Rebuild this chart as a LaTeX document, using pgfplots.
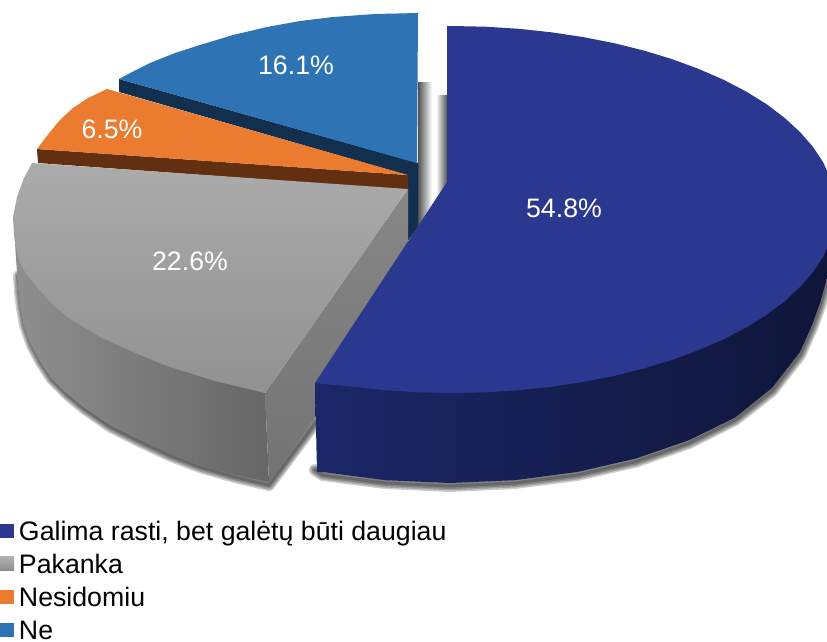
\documentclass[border=0pt]{standalone}
\usepackage{fontspec}
\setmainfont{Liberation Sans}
\usepackage{pgfplots}
\pgfplotsset{compat=1.18}
\definecolor{cmain}{HTML}{2B3890}
\definecolor{cmainL}{HTML}{1C2768}
\definecolor{cmainR}{HTML}{0F1538}
\definecolor{cora}{HTML}{EB7B2F}
\definecolor{coraS}{HTML}{622F11}
\definecolor{cblu}{HTML}{2E74B5}
\definecolor{cbluS}{HTML}{122F4E}
\pgfplotsset{
 sh/.style={draw=black,draw opacity=0.2,line width=#1,line join=round,line cap=round,fill=none,forget plot},
 shape/.style={draw=none,forget plot},
 swatch/.style={legend image code/.code={\path[draw=none,##1] (0pt,-7pt) rectangle (14pt,7pt);}},
}
\begin{document}
\begin{tikzpicture}
\begin{axis}[
 scale only axis,width=827pt,height=641pt,
 xmin=0,xmax=827,ymin=0,ymax=641,y dir=reverse,
 hide axis,clip=true,
 legend cell align=left,
 legend style={at={(axis cs:0,640)},anchor=south west,draw=none,fill=none,inner sep=0pt,outer sep=0pt,
   font=\fontsize{26.7}{30}\selectfont,row sep=12pt,
   nodes={inner sep=0pt,text height=20pt,text depth=1pt},
   /tikz/every odd column/.append style={column sep=5pt}},
]
\addplot[draw=none,forget plot] coordinates {(0,0)(827,641)};
% wall shadows
\addplot[shape,left color=black!68,right color=white] coordinates {(418,82)(432,82)(432,235)(418,235)} -- cycle;
\addplot[shape,left color=white,right color=black!68] coordinates {(436,95)(447,95)(447,200)(436,200)} -- cycle;
% "Ne" slice
\addplot[shape,fill=cbluS] coordinates {(119,79)(119,92)(407,175)(407,242)(418,227)(418,163)} -- cycle;
\addplot[shape,fill=cblu] coordinates {(418,13)(375,14)(333,17)(300,21)(267,27)(233,35)(200,45)(175,53)(150,63)(134,71)(119,79)(417,163)} -- cycle;
% "Nesidomiu" slice
\addplot[shape,fill=coraS] coordinates {(37,149)(38,163)(408,190)(408,175)} -- cycle;
\addplot[shape,fill=cora] coordinates {(37,149)(43,141)(50,132)(60,120)(73,108)(88,98)(107,89)(408,175)} -- cycle;
% shadows of the lower rims
\pgfplotsinvokeforeach{12pt,9pt,6pt,3pt}{
\addplot[sh=#1] coordinates {(19,276)(20,292)(22,308)(25,325)(32,345)(41,362)(52,379)(68,395)(85,409)(111,427)(141,442)(170,455.5)(200,467)(235,477)(269,485)(316,422)};
\addplot[sh=#1] coordinates {(315,470)(322.8,475)(385.4,483)(450,486)(514.6,483)(577.2,475)(636,461.5)(689,443)(735,420)(772,391)(800,355)(812,328)(820,306)(830,272)};
}
% "Pakanka" slice
\addplot[shape,left color=black!44,right color=black!60] coordinates {(15,243)(18,287)(20,305)(23,323)(30,343)(39,360)(50,377)(66,393)(83,407)(110,425)(140,440)(170,453.5)(200,465)(235,475)(269,482)(265,393)(100,250)} -- cycle;
\addplot[shape,top color=black!47,bottom color=black!55] coordinates {(408,189)(265,393)(269,482)(408,288)} -- cycle;
\addplot[shape,top color=black!33,bottom color=black!43] coordinates {(408,189)(32,163)(24,178)(17,197)(13,217)(14,235)(15,243)(20,263)(27,275)(37,287)(50,302)(67,317)(100,337)(140,355)(167,366)(215,381)(265,393)} -- cycle;
% "Galima rasti" slice
\addplot[shape,left color=cmainL,right color=cmainR] coordinates {(315,383)(317,472)(322.8,472)(385.4,480.2)(450,483)(514.6,480.2)(577.2,472)(636,458.5)(689,440.2)(735,417.6)(772,388)(800,352)(812,325)(820,303)(827,278)(832,250)(832,200)} -- cycle;
\addplot[shape,fill=cmain] coordinates {(447,26)(452,26)(485.5,26.7)(518.7,28.8)(551.4,32.3)(583.3,37.1)(614.3,43.2)(644,50.6)(672.3,59.2)(698.8,69)(723.5,79.7)(746.1,91.5)(766.6,104.2)(784.5,117.8)(800,132)(812.8,146.7)(823,162)(830.2,177.6)(834.5,193.5)(836,209.5)(834.5,225.5)(830.2,241.4)(823,257)(812.8,272.3)(800,287)(784.5,301.3)(766.6,314.8)(746.1,327.5)(723.5,339.3)(698.8,350)(672.3,359.8)(644,368.4)(614.3,375.8)(583.3,381.9)(551.4,386.7)(518.7,390.2)(485.5,392.3)(452,393)(418.5,392.3)(385.3,390.2)(352.6,386.7)(315,383)(447,182)} -- cycle;
% value labels
\node[white,font=\fontsize{26.7}{30}\selectfont] at (axis cs:564,208) {54.8\%};
\node[white,font=\fontsize{26.7}{30}\selectfont] at (axis cs:190,261) {22.6\%};
\node[white,font=\fontsize{26.7}{30}\selectfont] at (axis cs:112,129) {6.5\%};
\node[white,font=\fontsize{26.7}{30}\selectfont] at (axis cs:296,65) {16.1\%};
% legend
\addlegendimage{swatch,fill=cmain}
\addlegendentry{Galima rasti, bet galėtų būti daugiau}
\addlegendimage{swatch,top color=black!30,bottom color=black!45}
\addlegendentry{Pakanka}
\addlegendimage{swatch,fill=cora}
\addlegendentry{Nesidomiu}
\addlegendimage{swatch,fill=cblu}
\addlegendentry{Ne}
\end{axis}
\end{tikzpicture}
\end{document}
